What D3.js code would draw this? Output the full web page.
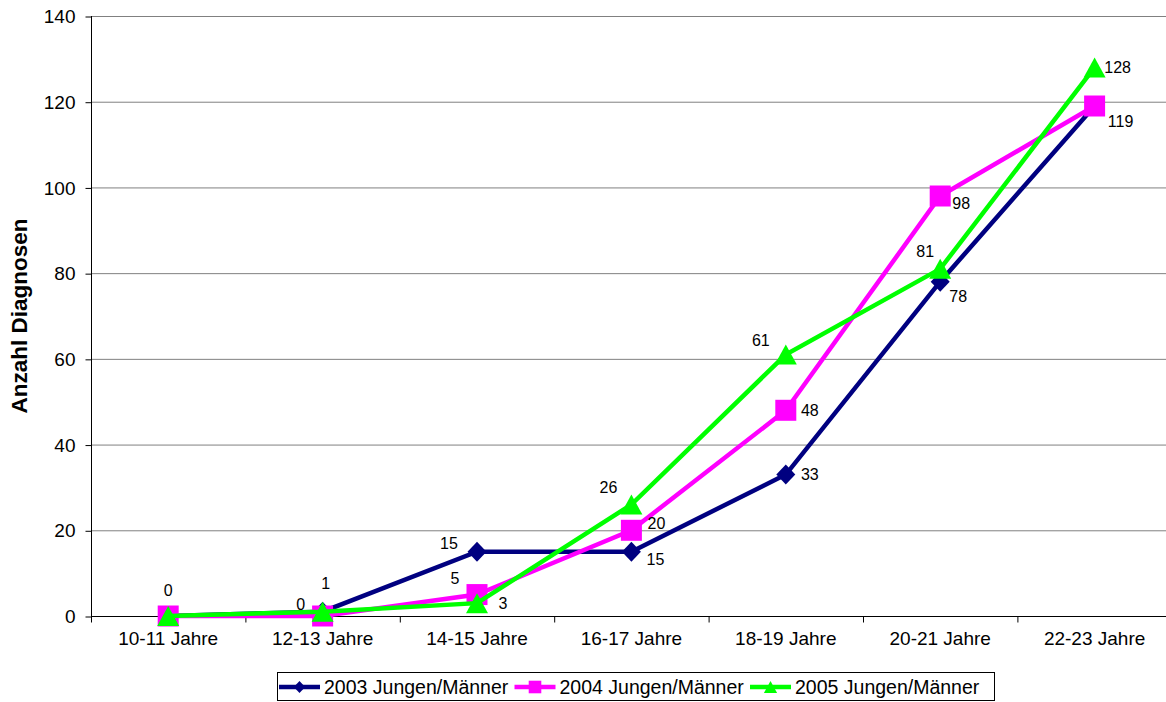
<!DOCTYPE html>
<html lang="de">
	<head>
		<meta charset="utf-8">
		<title>Anzahl Diagnosen</title>
		<script src="https://cdnjs.cloudflare.com/ajax/libs/d3/7.8.5/d3.min.js"></script>
		<style type="text/css">
			html, body {
				margin: 0;
				padding: 0;
				background: white;
			}
			svg {
				display: block;
				font-family: "Liberation Sans", Arial, sans-serif;
			}
			.grid line {
				stroke: #808080;
				stroke-width: 1px;
			}
		</style>
	</head>
	<body>
		<svg id="chart" width="1166" height="702"></svg>
		<script type="text/javascript">

			// ---------------------------------------------
			// data
			// ---------------------------------------------
			var categories = ["10-11 Jahre", "12-13 Jahre", "14-15 Jahre", "16-17 Jahre", "18-19 Jahre", "20-21 Jahre", "22-23 Jahre"];
			var yTicks = [0, 20, 40, 60, 80, 100, 120, 140];

			var seriesNames = ["2003 Jungen/Männer", "2004 Jungen/Männer", "2005 Jungen/Männer"];
			var values2003 = [0, 1, 15, 15, 33, 78, 119];
			var values2004 = [0, 0, 5, 20, 48, 98, 119];
			var values2005 = [0, 1, 3, 26, 61, 81, 128];

			// where each value label sits relative to its point (dx, dy in px)
			var labelPos2003 = [[0, -26], [3, -28], [-28, -8], [24, 8], [24, 0], [18, 15], [26, 15]];
			var labelPos2004 = [[0, -26], [-22, -12], [-22, -16], [25, -7], [24, 0], [21, 7], [26, 15]];
			var labelPos2005 = [[0, -26], [3, -28], [26, 0], [-23, -17], [-25, -14], [-15, -17], [23, 0]];

			var width = 1166;
			var height = 702;
			var plot = {left: 91, top: 16, bottom: 616, step: 154.4};

			var svg = d3.select("#chart");

			var x = d3.scaleBand()
				.domain(categories)
				.range([plot.left, plot.left + plot.step * categories.length])
				.paddingInner(0)
				.paddingOuter(0);

			var y = d3.scaleLinear()
				.domain([0, 140])
				.range([plot.bottom, plot.top]);

			function cx(c) { return x(c) + x.bandwidth() / 2; }

			// ---------------------------------------------
			// gridlines
			// ---------------------------------------------
			svg.append("g")
				.attr("class", "grid")
				.selectAll("line")
				.data(yTicks.filter(function (d) { return d > 0; }))
				.enter().append("line")
				.attr("x1", plot.left).attr("x2", width)
				.attr("y1", function (d) { return y(d) + 0.5; })
				.attr("y2", function (d) { return y(d) + 0.5; });

			// ---------------------------------------------
			// axes
			// ---------------------------------------------
			var yAxis = svg.append("g")
				.attr("transform", "translate(" + (plot.left + 0.5) + ",0.5)")
				.call(d3.axisLeft(y).tickValues(yTicks).tickSize(6).tickPadding(10));

			var xAxis = svg.append("g")
				.attr("transform", "translate(0," + (plot.bottom + 0.5) + ")")
				.call(d3.axisBottom(x).tickSize(0).tickPadding(28));

			// x ticks sit on category boundaries
			xAxis.selectAll(".bound")
				.data(categories)
				.enter().append("line")
				.attr("class", "bound")
				.attr("x1", function (d) { return x(d) + 0.5; })
				.attr("x2", function (d) { return x(d) + 0.5; })
				.attr("y1", 0).attr("y2", 6)
				.attr("stroke", "black");

			xAxis.select(".domain").attr("d", "M" + plot.left + ",0H" + width).attr("stroke", "black");
			yAxis.select(".domain").attr("d", "M0," + (plot.top - 0.5) + "V" + plot.bottom).attr("stroke", "black");

			svg.selectAll(".tick text")
				.attr("fill", "black")
				.style("font-size", "19px")
				.style("font-family", "'Liberation Sans', Arial, sans-serif");
			xAxis.selectAll(".tick text").attr("dy", "0");
			yAxis.selectAll(".tick line").attr("stroke", "black");

			svg.append("text")
				.attr("transform", "translate(27," + ((plot.top + plot.bottom) / 2) + ") rotate(-90)")
				.attr("text-anchor", "middle")
				.style("font-size", "22.5px")
				.style("font-weight", "bold")
				.text("Anzahl Diagnosen");

			// ---------------------------------------------
			// markers
			// ---------------------------------------------
			function diamondPath(px, py, w, h) {
				return "M" + px + "," + (py - h) + "L" + (px + w) + "," + py + "L" + px + "," + (py + h) + "L" + (px - w) + "," + py + "Z";
			}
			function squarePath(px, py, s) {
				return "M" + (px - s) + "," + (py - s) + "H" + (px + s) + "V" + (py + s) + "H" + (px - s) + "Z";
			}
			function trianglePath(px, py, w, h) {
				return "M" + px + "," + (py - h) + "L" + (px + w) + "," + (py + h) + "L" + (px - w) + "," + (py + h) + "Z";
			}

			var series = [
				{name: seriesNames[0], values: values2003, labels: labelPos2003, color: "#000080",
					marker: function (px, py, k) { return diamondPath(px, py, 9.5 * k, 10 * k); }},
				{name: seriesNames[1], values: values2004, labels: labelPos2004, color: "#ff00ff",
					marker: function (px, py, k) { return squarePath(px, py, 10.5 * k); }},
				{name: seriesNames[2], values: values2005, labels: labelPos2005, color: "#00ff00",
					marker: function (px, py, k) { return trianglePath(px, py, 11 * k, 10 * k); }}
			];

			var line = d3.line()
				.x(function (d, i) { return cx(categories[i]); })
				.y(function (d) { return y(d); });

			series.forEach(function (s) {
				var g = svg.append("g");
				g.append("path")
					.attr("d", line(s.values))
					.attr("fill", "none")
					.attr("stroke", s.color)
					.attr("stroke-width", 4.5)
					.attr("stroke-linejoin", "miter");
				g.selectAll(".mk")
					.data(s.values)
					.enter().append("path")
					.attr("class", "mk")
					.attr("d", function (d, i) { return s.marker(cx(categories[i]), y(d), 1); })
					.attr("fill", s.color);
			});

			// value labels on top; labels that land on the same spot are drawn once
			var labelData = [];
			var seen = {};
			series.forEach(function (s) {
				s.values.forEach(function (v, i) {
					var lx = cx(categories[i]) + s.labels[i][0];
					var ly = y(v) + s.labels[i][1];
					var key = v + "|" + Math.round(lx) + "|" + Math.round(ly);
					if (seen[key]) return;
					seen[key] = true;
					labelData.push({v: v, x: lx, y: ly});
				});
			});

			svg.append("g").selectAll("text")
				.data(labelData)
				.enter().append("text")
				.attr("x", function (d) { return d.x; })
				.attr("y", function (d) { return d.y; })
				.attr("text-anchor", "middle")
				.attr("dominant-baseline", "central")
				.style("font-size", "16px")
				.text(function (d) { return d.v; });

			// ---------------------------------------------
			// legend
			// ---------------------------------------------
			var legend = svg.append("g");
			legend.append("rect")
				.attr("x", 277.5).attr("y", 672.5)
				.attr("width", 717).attr("height", 28)
				.attr("fill", "white")
				.attr("stroke", "black");

			series.forEach(function (s, i) {
				var lx = 279 + i * 235.5;
				var ly = 687;
				legend.append("line")
					.attr("x1", lx).attr("x2", lx + 41)
					.attr("y1", ly).attr("y2", ly)
					.attr("stroke", s.color)
					.attr("stroke-width", 4.5);
				legend.append("path")
					.attr("d", s.marker(lx + 20.5, ly, 0.6))
					.attr("fill", s.color);
				legend.append("text")
					.attr("x", lx + 45)
					.attr("y", ly)
					.attr("dominant-baseline", "central")
					.style("font-size", "19.5px")
					.text(s.name);
			});

		</script>
	</body>
</html>
